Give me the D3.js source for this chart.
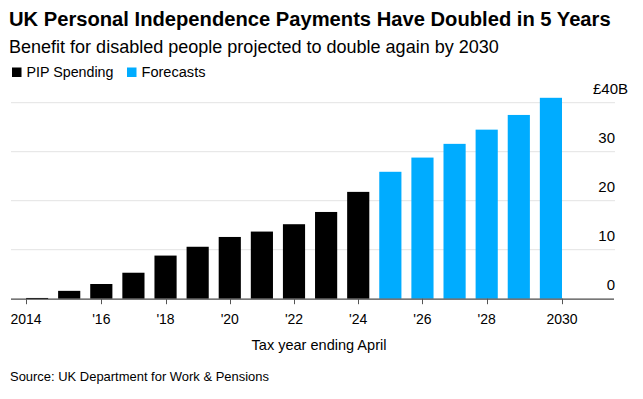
<!DOCTYPE html>
<html><head><meta charset="utf-8">
<script src="https://cdn.jsdelivr.net/npm/d3@7"></script>
<style>
html,body{margin:0;padding:0;background:#fff;}
svg{display:block;font-family:"Liberation Sans",Arial,sans-serif;}
</style></head>
<body>
<svg id="chart" width="643" height="399"></svg>
<script>
// ---- data ----
const years = [2014,2015,2016,2017,2018,2019,2020,2021,2022,2023,2024,2025,2026,2027,2028,2029,2030];
const spending = [0.15,1.6,3.0,5.3,8.8,10.6,12.6,13.7,15.2,17.7,21.8,null,null,null,null,null,null];
const forecasts = [null,null,null,null,null,null,null,null,null,null,null,25.9,28.8,31.6,34.5,37.5,41.0];
const yTicks = [0,10,20,30,40];
const xTickYears = [2014,2016,2018,2020,2022,2024,2026,2028,2030];
const xTickLabels = ["2014","'16","'18","'20","'22","'24","'26","'28","2030"];
const seriesNames = ["PIP Spending","Forecasts"];
const colors = ["#000000","#00acff"];

const svg = d3.select("#chart");

function fit(sel, w){
  const n = sel.node();
  const cur = parseFloat(sel.attr("font-size"));
  const len = n.getComputedTextLength();
  sel.attr("font-size", (cur*w/len).toFixed(2));
}

// titles
fit(svg.append("text").attr("x",9).attr("y",26).attr("font-size",19).attr("font-weight","bold").attr("fill","#000")
  .text("UK Personal Independence Payments Have Doubled in 5 Years"), 602);
fit(svg.append("text").attr("x",9).attr("y",53).attr("font-size",17).attr("fill","#000")
  .text("Benefit for disabled people projected to double again by 2030"), 490);

// legend
const legX = [12, 127];
const legW = [87, 64];
seriesNames.forEach((s,i)=>{
  svg.append("rect").attr("x",legX[i]).attr("y",67.5).attr("width",9.5).attr("height",9.5).attr("fill",colors[i]);
  fit(svg.append("text").attr("x",legX[i]+14.5).attr("y",77).attr("font-size",14).attr("fill","#000").text(s), legW[i]);
});

// scales
const x = d3.scaleBand().domain(years).range([26,562]).paddingInner(0.31).paddingOuter(0);
const y = d3.scaleLinear().domain([0,40]).range([298.7,102.7]);
const gridL = 11, gridR = 615;

// gridlines
svg.append("g").selectAll("line").data(yTicks.filter(d=>d>0)).join("line")
  .attr("x1",gridL).attr("x2",gridR).attr("y1",d=>y(d)).attr("y2",d=>y(d))
  .attr("stroke","#e3e3e3").attr("stroke-width",1);

// y labels
const yl = svg.append("g").selectAll("text").data(yTicks).join("text")
  .attr("x",615).attr("y",d=>y(d)-8.5)
  .attr("font-size",15).attr("fill","#000")
  .attr("text-anchor","end")
  .text(d=>d===40 ? "£40B" : d);
yl.filter(d=>d===40).each(function(){
  const full = this.getComputedTextLength();
  d3.select(this).attr("text-anchor","start").attr("x", 628 - full);
});

// bars
const drawSeries = (vals, col) => {
  svg.append("g").selectAll("rect").data(years.map((yr,i)=>({yr, v:vals[i]})).filter(d=>d.v!=null)).join("rect")
    .attr("x",d=>x(d.yr)).attr("width",x.bandwidth())
    .attr("y",d=>y(d.v)).attr("height",d=>Math.max(y(0)-y(d.v),1))
    .attr("fill",col);
};
drawSeries(spending, colors[0]);
drawSeries(forecasts, colors[1]);

// x axis line
svg.append("line").attr("x1",gridL).attr("x2",614).attr("y1",y(0)+0.5).attr("y2",y(0)+0.5)
  .attr("stroke","#4a4a4a").attr("stroke-width",1.2);

// ticks: end years at outer edges of their bands, others at band centres
const tickX = yr => yr===years[0] ? x(yr) : (yr===years[years.length-1] ? x(yr)+x.bandwidth() : x(yr)+x.bandwidth()/2);
const xt = svg.append("g");
xt.selectAll("line").data(xTickYears).join("line")
  .attr("x1",d=>Math.round(tickX(d))+0.5).attr("x2",d=>Math.round(tickX(d))+0.5)
  .attr("y1",y(0)).attr("y2",y(0)+5.5).attr("stroke","#555").attr("stroke-width",1);
xt.selectAll("text").data(xTickYears).join("text")
  .attr("x",d=>tickX(d)).attr("y",324).attr("text-anchor","middle")
  .attr("font-size",14).attr("fill","#000")
  .text((d,i)=>xTickLabels[i]);

// axis title
const at = svg.append("text").attr("x",319).attr("y",349.5).attr("text-anchor","middle")
  .attr("font-size",14).attr("fill","#000").text("Tax year ending April");
fit(at, 135);

// source
fit(svg.append("text").attr("x",10).attr("y",381).attr("font-size",13).attr("fill","#000")
  .text("Source: UK Department for Work & Pensions"), 259);
</script>
</body></html>
